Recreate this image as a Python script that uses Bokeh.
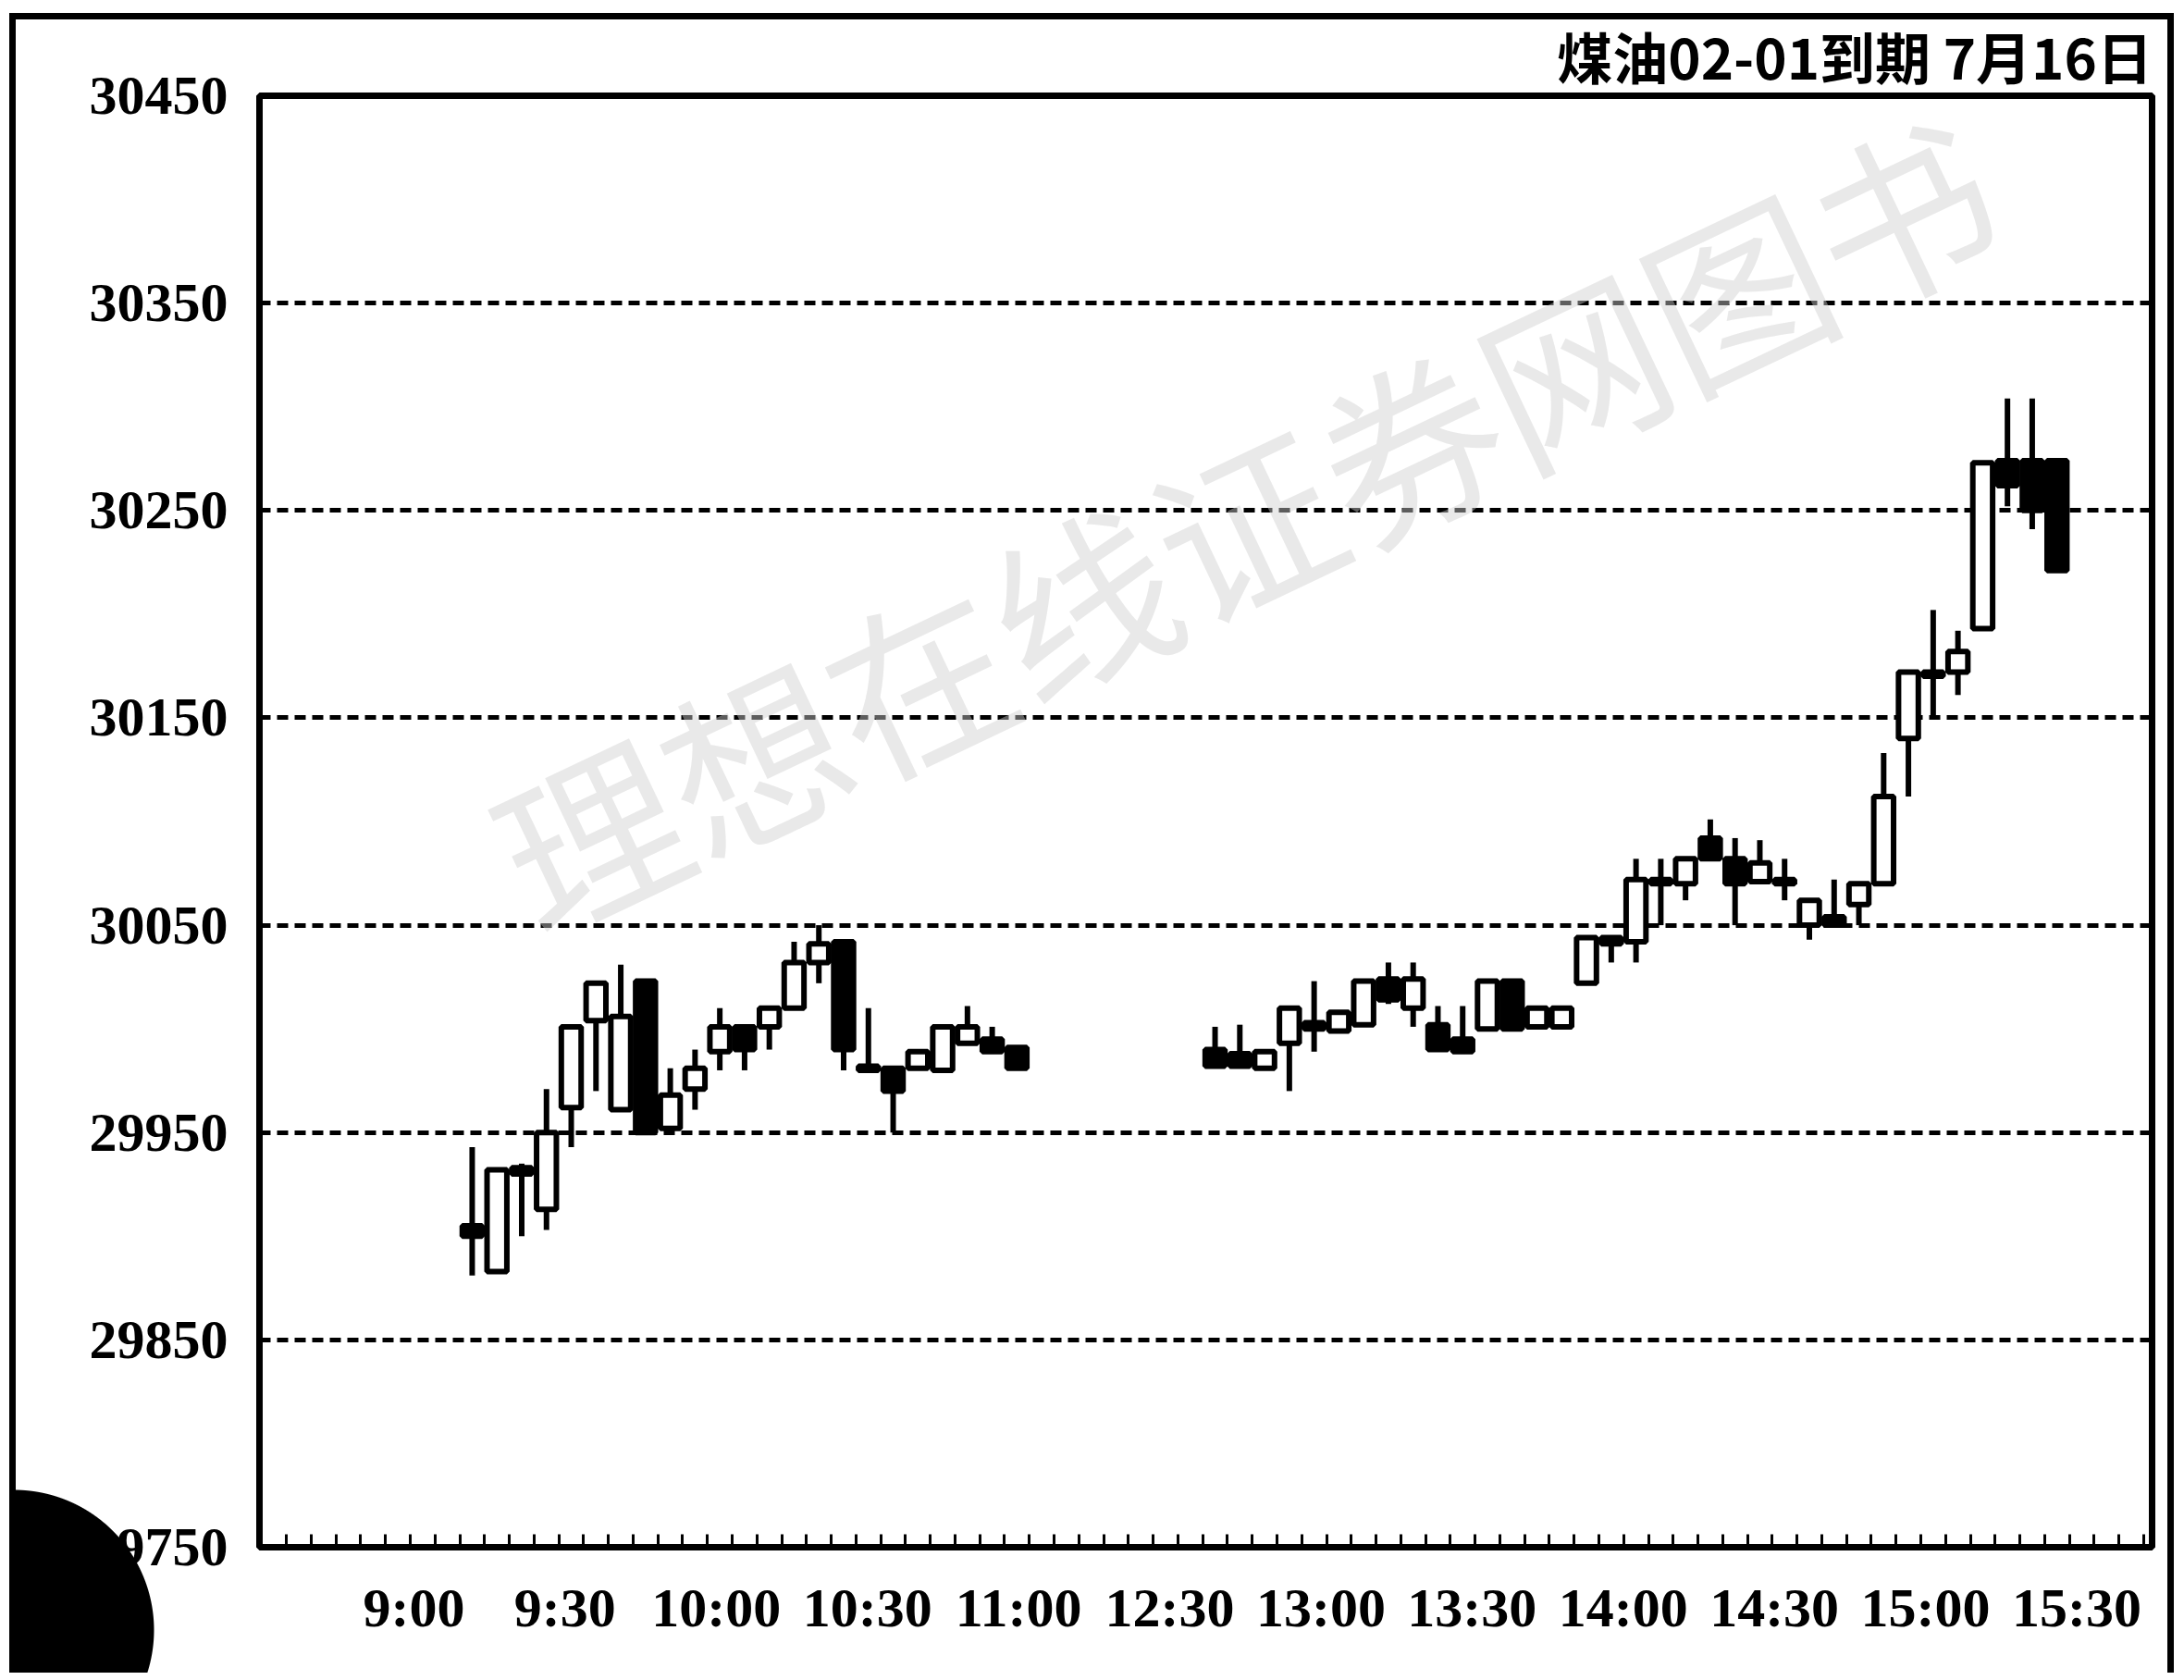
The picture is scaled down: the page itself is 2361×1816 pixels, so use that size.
from bokeh.plotting import figure
from bokeh.models import Range1d, FixedTicker, Label, ColumnDataSource, CustomJSTickFormatter
from bokeh.embed import file_html
from bokeh.resources import INLINE

# ---- data (5-minute bars) ----
times = ["9:10", "9:15", "9:20", "9:25", "9:30", "9:35", "9:40", "9:45", "9:50", "9:55",
         "10:00", "10:05", "10:10", "10:15", "10:20", "10:25", "10:30", "10:35", "10:40",
         "10:45", "10:50", "10:55", "11:00",
         "12:40", "12:45", "12:50", "12:55", "13:00", "13:05", "13:10", "13:15", "13:20",
         "13:25", "13:30", "13:35", "13:40", "13:45", "13:50", "13:55", "14:00", "14:05",
         "14:10", "14:15", "14:20", "14:25", "14:30", "14:35", "14:40", "14:45", "14:50",
         "14:55", "15:00", "15:05", "15:10", "15:15", "15:20", "15:25", "15:30"]
opens = [29905, 29883, 29933, 29913, 29962, 30004, 29961, 30023, 29952, 29971,
         29989, 30001, 30001, 30010, 30032, 30042, 29982, 29981, 29981,
         29980, 29993, 29995, 29991,
         29990, 29988, 29981, 29993, 30003, 29999, 30002, 30024, 30010,
         30002, 29995, 30000, 30023, 30001, 30001, 30022, 30044, 30042,
         30072, 30070, 30092, 30082, 30071, 30072, 30050, 30054, 30060,
         30070, 30140, 30172, 30172, 30193, 30274, 30274, 30274]
highs = [29943, 29932, 29935, 29971, 30001, 30022, 30031, 30023, 29981, 29990,
         30010, 30001, 30010, 30042, 30050, 30042, 30010, 29981, 29989,
         30001, 30011, 30001, 29991,
         30001, 30002, 29989, 30010, 30023, 30008, 30023, 30032, 30032,
         30011, 30011, 30023, 30023, 30010, 30010, 30044, 30044, 30082,
         30082, 30082, 30101, 30092, 30091, 30082, 30062, 30072, 30070,
         30133, 30172, 30202, 30192, 30274, 30304, 30304, 30274]
lows = [29881, 29882, 29900, 29903, 29943, 29970, 29961, 29950, 29950, 29961,
        29980, 29980, 29990, 30010, 30022, 29980, 29980, 29950, 29981,
        29980, 29993, 29988, 29981,
        29981, 29981, 29981, 29970, 29989, 29999, 30002, 30012, 30001,
        29990, 29988, 30000, 30000, 30001, 30001, 30022, 30032, 30032,
        30050, 30062, 30082, 30050, 30071, 30062, 30043, 30050, 30050,
        30070, 30112, 30151, 30161, 30193, 30252, 30241, 30221]
closes = [29900, 29932, 29930, 29950, 30001, 30022, 30006, 29950, 29968, 29981,
          30001, 29990, 30010, 30032, 30041, 29990, 29980, 29970, 29989,
          30001, 30001, 29989, 29981,
          29982, 29982, 29989, 30010, 30000, 30008, 30023, 30014, 30024,
          29990, 29989, 30023, 30000, 30010, 30010, 30044, 30041, 30072,
          30070, 30082, 30082, 30070, 30080, 30070, 30062, 30050, 30070,
          30112, 30172, 30170, 30182, 30273, 30262, 30250, 30221]

tick_labels = ["9:00", "9:30", "10:00", "10:30", "11:00", "12:30",
               "13:00", "13:30", "14:00", "14:30", "15:00", "15:30"]
price_ticks = [29750, 29850, 29950, 30050, 30150, 30250, 30350, 30450]
title_text = "煤油02-01到期  7月16日"
watermark = "理想在线证券网图书"


def slot(t):
    """Map a clock time to a bar slot; the lunch break is compressed."""
    h, m = (int(v) for v in t.split(":"))
    mins = h * 60 + m
    if mins <= 11 * 60 + 15:
        return -2 + (mins - 9 * 60) // 5
    return 28 + (mins - (12 * 60 + 30)) // 5


xs = [slot(t) for t in times]
tops = [max(o, c) for o, c in zip(opens, closes)]
bottoms = [min(o, c) for o, c in zip(opens, closes)]
fills = ["white" if c > o else "black" for o, c in zip(opens, closes)]

src = ColumnDataSource(dict(x=xs, high=highs, low=lows, top=tops, bottom=bottoms, fill=fills))

W, H = 2353, 1808
FL, FR, FT, FB = 280, 2326, 103, 1672   # frame edges on the canvas

p = figure(width=W, height=H, output_backend="svg", toolbar_location=None,
           x_range=Range1d(-8.59, 67.84), y_range=Range1d(29750, 30450),
           min_border_left=FL, min_border_right=W - FR, min_border_top=FT,
           min_border_bottom=H - FB, title=title_text)

p.border_fill_color = None
p.background_fill_color = "white"
p.outline_line_color = "black"
p.outline_line_width = 7
# outer page frame (top/left/right) and the black thumb-index disc in the lower-left corner
p.styles = {
    "box-shadow": "inset 10px 14px 0 0 #fff, inset -3px 0 0 0 #fff, "
                  "inset 17px 21px 0 0 #000, inset -10px 0 0 0 #000",
    "background": "radial-gradient(circle 152px at 15px 1762px, #000 151px, rgba(0,0,0,0) 152px)",
}

p.title.align = "right"
p.title.text_font = "Noto Sans CJK SC"
p.title.text_font_style = "bold"
p.title.text_font_size = "60px"
p.title.text_color = "black"
p.title.standoff = 2
p.title.offset = -14

# watermark
wm = Label(x=31.15, y=30246, text=watermark, angle=0.443, angle_units="rad",
           text_font="Noto Sans CJK SC", text_font_size="196px", text_color="#cfcfcf",
           text_alpha=0.45, text_align="center", text_baseline="middle", level="underlay")
p.add_layout(wm)

# axes: the printed time labels sit on a slightly wider spacing than the bars
label_pos = [31.22 + 1.0174 * (slot(t) - 31) for t in tick_labels]
half_slots = [s + 0.5 for s in range(-9, 68)]
p.xaxis.ticker = FixedTicker(ticks=label_pos, minor_ticks=half_slots)
p.xaxis.formatter = CustomJSTickFormatter(
    args=dict(pos=label_pos, labels=tick_labels),
    code="for (let i = 0; i < pos.length; i++) { if (Math.abs(pos[i] - tick) < 1e-6) return labels[i]; } return '';")
p.xaxis.major_tick_in = 0
p.xaxis.major_tick_out = 0
p.xaxis.minor_tick_in = 14
p.xaxis.minor_tick_out = 0
p.xaxis.minor_tick_line_width = 3
p.xaxis.minor_tick_line_color = "black"
p.xaxis.axis_line_color = None
p.xaxis.major_label_standoff = 32

p.yaxis.ticker = FixedTicker(ticks=price_ticks, minor_ticks=[])
p.yaxis.major_tick_in = 0
p.yaxis.major_tick_out = 0
p.yaxis.minor_tick_in = 0
p.yaxis.minor_tick_out = 0
p.yaxis.axis_line_color = None
p.yaxis.major_label_standoff = 34

for ax in (p.xaxis, p.yaxis):
    ax.major_label_text_font = "Liberation Serif"
    ax.major_label_text_font_style = "bold"
    ax.major_label_text_font_size = "60px"
    ax.major_label_text_color = "black"

p.xgrid.visible = False
p.ygrid.ticker = FixedTicker(ticks=price_ticks[1:-1])
p.ygrid.grid_line_color = "black"
p.ygrid.grid_line_width = 5
p.ygrid.grid_line_dash = "12 7"

# candles
p.segment(x0="x", y0="low", x1="x", y1="high", source=src, line_color="black", line_width=6)
p.vbar(x="x", width=0.8, top="top", bottom="bottom", source=src,
       fill_color="fill", line_color="black", line_width=6)

open("out.html", "w").write(file_html(p, INLINE))
